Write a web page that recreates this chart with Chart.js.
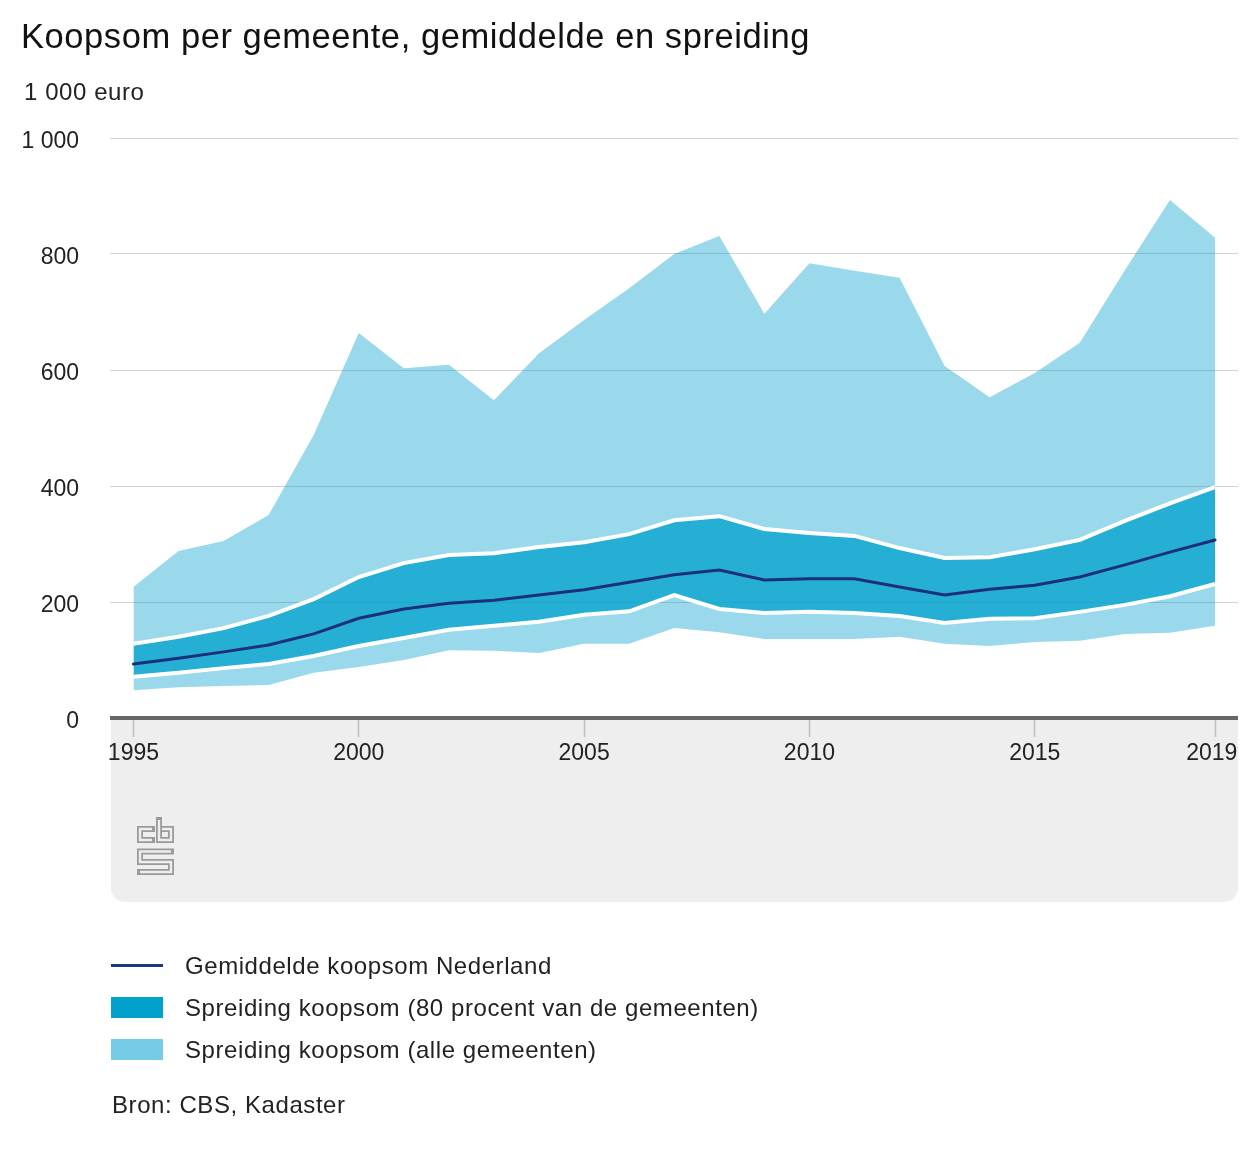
<!DOCTYPE html>
<html lang="nl">
<head>
<meta charset="utf-8">
<title>Koopsom per gemeente</title>
<script src="https://cdn.jsdelivr.net/npm/chart.js@4/dist/chart.umd.min.js"></script>
<style>
  body { margin: 0; background: #fff; font-family: "Liberation Sans", Arial, sans-serif; color: #222; }
  #wrap { position: relative; width: 1260px; height: 1155px; overflow: hidden; }
  #panel { position: absolute; left: 111px; top: 718px; width: 1127px; height: 184px; background: #eeeeee; border-radius: 0 0 14px 14px; }
  #logo { position: absolute; left: 136px; top: 817px; }
  canvas { position: absolute; left: 0; top: 0; }
  .txt { position: absolute; white-space: nowrap; letter-spacing: 0.57px; }
  #title { left: 21px; top: 16px; font-size: 34.5px; line-height: 40px; color: #111; }
  #unit { left: 24px; top: 78px; font-size: 24px; line-height: 28px; }
  #source { left: 112px; top: 1091px; font-size: 24px; line-height: 28px; }
  .key { position: absolute; left: 111px; width: 52px; }
  .lab { left: 185px; font-size: 24px; line-height: 28px; }
</style>
</head>
<body>
<div id="wrap">
  <div id="panel"></div>
  <svg id="logo" width="39" height="60" viewBox="0 0 39 60" fill="none">
    <path d="M16 12H4V23H16M23 3V23H35V12H26M35 34.5H4V45H35V55H4" stroke="#9a9a9a" stroke-width="6" stroke-linecap="square"/>
    <path d="M16 12H4V23H16M23 3V23H35V12H26M35 34.5H4V45H35V55H4" stroke="#eeeeee" stroke-width="2.4"/>
  </svg>
  <canvas id="grafico" width="1260" height="1155"></canvas>
  <div class="txt" id="title">Koopsom per gemeente, gemiddelde en spreiding</div>
  <div class="txt" id="unit">1 000 euro</div>
  <div class="key" style="top:964px;height:3px;background:#1b3a7d"></div>
  <div class="txt lab" style="top:952px" id="lab0"></div>
  <div class="key" style="top:997px;height:21px;background:#00a1cd"></div>
  <div class="txt lab" style="top:994px" id="lab1"></div>
  <div class="key" style="top:1039px;height:21px;background:#76cbe6"></div>
  <div class="txt lab" style="top:1036px" id="lab2"></div>
  <div class="txt" id="source">Bron: CBS, Kadaster</div>
</div>
<script>
const jaren = [1995,1996,1997,1998,1999,2000,2001,2002,2003,2004,2005,2006,2007,2008,2009,2010,2011,2012,2013,2014,2015,2016,2017,2018,2019];
const gemiddelde = [93,103,114,126,145,172,188,198,203,212,221,234,247,255,238,240,240,226,212,222,229,243,264,286,307];
const hoogste = [226,288,305,350,488,664,603,609,548,629,686,741,800,831,697,784,771,759,607,553,595,647,772,893,828];
const bovengrens80 = [128,140,155,176,205,243,267,281,284,295,303,317,341,348,326,319,314,293,276,277,291,307,340,370,398];
const ondergrens80 = [71,78,86,93,107,124,138,152,159,166,178,184,212,188,181,183,181,176,164,171,172,183,195,210,231];
const laagste = [48,53,55,57,78,88,100,117,116,112,128,128,155,148,136,136,136,140,128,124,131,133,145,147,159];
const xTicks = [1995,2000,2005,2010,2015,2019];
const legendaTeksten = ["Gemiddelde koopsom Nederland","Spreiding koopsom (80 procent van de gemeenten)","Spreiding koopsom (alle gemeenten)"];

legendaTeksten.forEach((t, i) => { document.getElementById("lab" + i).textContent = t; });

function punten(reeks) {
  return reeks.map((v, i) => ({ x: jaren[i], y: v }));
}

const lichtBlauw = "rgba(0,161,205,0.4)";
const donkerBlauw = "rgba(0,161,205,0.85)";

const ctx = document.getElementById("grafico").getContext("2d");
new Chart(ctx, {
  type: "line",
  data: {
    datasets: [
      { label: legendaTeksten[0], data: punten(gemiddelde), borderColor: "#1c2f7a", borderWidth: 3, borderCapStyle: "round", fill: false },
      { data: punten(bovengrens80), borderColor: "#ffffff", borderWidth: 4, fill: false },
      { data: punten(ondergrens80), borderColor: "#ffffff", borderWidth: 4, fill: false },
      { label: legendaTeksten[2], data: punten(hoogste), borderWidth: 0, backgroundColor: lichtBlauw, fill: "+1" },
      { label: legendaTeksten[1], data: punten(bovengrens80), borderWidth: 0, backgroundColor: donkerBlauw, fill: "+1" },
      { data: punten(ondergrens80), borderWidth: 0, backgroundColor: lichtBlauw, fill: "+1" },
      { data: punten(laagste), borderWidth: 0, fill: false }
    ]
  },
  options: {
    responsive: false,
    animation: false,
    elements: { point: { radius: 0 }, line: { tension: 0 } },
    layout: { padding: { top: 138, right: 22, bottom: 377, left: 0 } },
    plugins: { legend: { display: false }, title: { display: false }, tooltip: { enabled: false } },
    scales: {
      x: {
        type: "linear",
        min: 1994.48,
        max: 2019.51,
        afterBuildTicks: (axis) => { axis.ticks = xTicks.map(v => ({ value: v })); },
        afterFit: (axis) => { axis.height = 60; },
        border: { display: false },
        grid: { z: -2, drawOnChartArea: false, drawTicks: true, tickLength: 19, tickWidth: 1.5, tickColor: "#bdbdbd" },
        ticks: {
          autoSkip: false,
          maxRotation: 0,
          padding: 3,
          color: "#222",
          font: { family: "'Liberation Sans'", size: 23 },
          callback: (v) => (v === 2019 ? "2019 " : String(v))
        }
      },
      y: {
        min: 0,
        max: 1000,
        afterFit: (axis) => { axis.width = 110; },
        border: { display: false },
        grid: {
          color: (c) => (c.tick.value === 0 ? "#666666" : "#d2d2d2"),
          lineWidth: (c) => (c.tick.value === 0 ? 4 : 1),
          drawTicks: false
        },
        ticks: {
          stepSize: 200,
          padding: 31,
          labelOffset: 4,
          color: "#222",
          font: { family: "'Liberation Sans'", size: 23 },
          callback: (v) => (v === 1000 ? "1 000" : String(v))
        }
      }
    }
  }
});
</script>
</body>
</html>
